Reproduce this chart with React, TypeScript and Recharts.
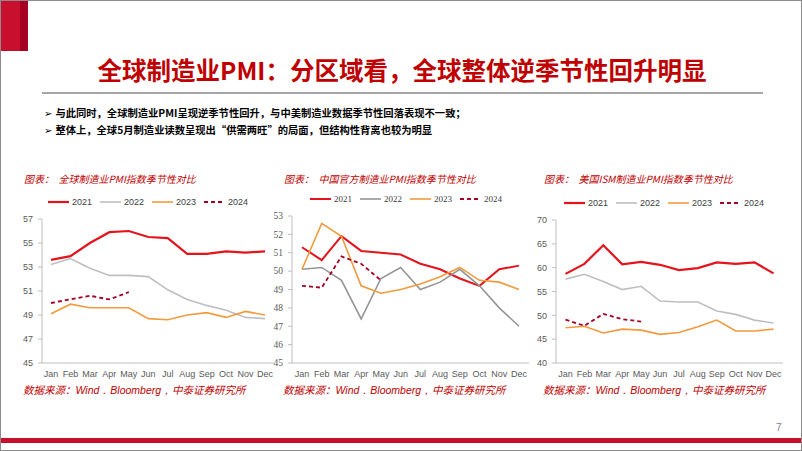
import { LineChart, Line, XAxis, YAxis, Legend } from 'recharts';

const months = ['Jan', 'Feb', 'Mar', 'Apr', 'May', 'Jun', 'Jul', 'Aug', 'Sep', 'Oct', 'Nov', 'Dec'];

// 全球制造业PMI
const global2021 = [53.6, 53.9, 55.0, 55.9, 56.0, 55.5, 55.4, 54.1, 54.1, 54.3, 54.2, 54.3];
const global2022 = [53.2, 53.7, 52.9, 52.3, 52.3, 52.2, 51.1, 50.3, 49.8, 49.4, 48.8, 48.7];
const global2023 = [49.1, 49.9, 49.6, 49.6, 49.6, 48.7, 48.6, 49.0, 49.2, 48.8, 49.3, 49.0];
const global2024 = [50.0, 50.3, 50.6, 50.3, 50.9];

// 中国官方制造业PMI
const china2021 = [51.3, 50.6, 51.9, 51.1, 51.0, 50.9, 50.4, 50.1, 49.6, 49.2, 50.1, 50.3];
const china2022 = [50.1, 50.2, 49.5, 47.4, 49.6, 50.2, 49.0, 49.4, 50.1, 49.2, 48.0, 47.0];
const china2023 = [50.1, 52.6, 51.9, 49.2, 48.8, 49.0, 49.3, 49.7, 50.2, 49.5, 49.4, 49.0];
const china2024 = [49.2, 49.1, 50.8, 50.4, 49.5];

// 美国ISM制造业PMI
const us2021 = [58.7, 60.8, 64.7, 60.7, 61.2, 60.6, 59.5, 59.9, 61.1, 60.8, 61.1, 58.8];
const us2022 = [57.6, 58.6, 57.1, 55.4, 56.1, 53.0, 52.8, 52.8, 50.9, 50.2, 49.0, 48.4];
const us2023 = [47.4, 47.7, 46.3, 47.1, 46.9, 46.0, 46.4, 47.6, 49.0, 46.7, 46.7, 47.1];
const us2024 = [49.1, 47.8, 50.3, 49.2, 48.7];

const globalTicks = [45, 47, 49, 51, 53, 55, 57];
const chinaTicks = [45, 46, 47, 48, 49, 50, 51, 52, 53];
const usTicks = [40, 45, 50, 55, 60, 65, 70];

const years = ['2021', '2022', '2023', '2024'];

const SANS = '"Liberation Sans", Arial, sans-serif';
const SERIF = '"Liberation Serif", "Times New Roman", serif';
const CJK = '"Noto Sans CJK SC", sans-serif';

const buildRows = (a: number[], b: number[], c: number[], d: number[]) =>
  months.map((m, i) => ({
    month: m,
    '2021': a[i],
    '2022': b[i],
    '2023': c[i],
    '2024': i < d.length ? d[i] : null,
  }));

type SeriesStyle = { color: string; width: number; dash?: string };

const PmiChart = (props: {
  left: number;
  top: number;
  width: number;
  height: number;
  margin: { top: number; right: number; left: number; bottom: number };
  yWidth: number;
  pad: number;
  data: any[];
  domain: [number, number];
  ticks: number[];
  styles: Record<string, SeriesStyle>;
  title: string;
  legendPos: { left: number; top: number; item: number };
  legendFont: string;
  legendSize: number;
  yFont: string;
  ySize: number;
}) => {
  const renderLegend = () => (
    <div style={{ display: 'flex', alignItems: 'center' }}>
      {years.map((y) => {
        const s = props.styles[y];
        return (
          <div key={y} style={{ display: 'flex', alignItems: 'center', width: props.legendPos.item }}>
            <svg width={21} height={10}>
              <line x1={0} y1={5} x2={21} y2={5} stroke={s.color} strokeWidth={s.width} strokeDasharray={s.dash} />
            </svg>
            <span style={{ marginLeft: 3, fontFamily: props.legendFont, fontSize: props.legendSize, color: '#404040' }}>{y}</span>
          </div>
        );
      })}
    </div>
  );

  return (
    <div style={{ position: 'absolute', left: props.left, top: props.top, width: props.width, height: props.height }}>
      <div
        style={{
          position: 'absolute',
          left: 13,
          top: 10,
          fontFamily: CJK,
          fontStyle: 'italic',
          fontSize: 10,
          color: '#C00000',
          whiteSpace: 'nowrap',
        }}
      >
        图表：&nbsp;&nbsp;{props.title}
      </div>
      <LineChart width={props.width} height={props.height} data={props.data} margin={props.margin}>
        <XAxis
          dataKey="month"
          interval={0}
          height={20}
          padding={{ left: props.pad, right: props.pad }}
          axisLine={{ stroke: '#BFBFBF' }}
          tickLine={false}
          tick={{ fontFamily: SANS, fontSize: 9, fill: '#595959' }}
          tickMargin={2}
        />
        <YAxis
          width={props.yWidth}
          domain={props.domain}
          ticks={props.ticks}
          interval={0}
          axisLine={{ stroke: '#BFBFBF' }}
          tickLine={{ stroke: '#BFBFBF' }}
          tickSize={4}
          tickMargin={5}
          tick={{ fontFamily: props.yFont, fontSize: props.ySize, fill: '#595959' }}
        />
        <Legend
          layout="horizontal"
          verticalAlign="middle"
          align="center"
          content={renderLegend}
          wrapperStyle={{ left: props.legendPos.left, top: props.legendPos.top, width: 'auto', height: 12 }}
        />
        {years.map((y) => (
          <Line
            key={y}
            type="linear"
            dataKey={y}
            stroke={props.styles[y].color}
            strokeWidth={props.styles[y].width}
            strokeDasharray={props.styles[y].dash}
            dot={false}
            activeDot={false}
            isAnimationActive={false}
          />
        ))}
      </LineChart>
      <div
        style={{
          position: 'absolute',
          left: 12,
          top: 221,
          fontFamily: CJK,
          fontStyle: 'italic',
          fontSize: 10.5,
          color: '#C00000',
          whiteSpace: 'nowrap',
        }}
      >
        数据来源：<span style={{ fontFamily: SANS }}>Wind．Bloomberg，</span>中泰证券研究所
      </div>
    </div>
  );
};

const lightStyles: Record<string, SeriesStyle> = {
  '2021': { color: '#E5141C', width: 2.2 },
  '2022': { color: '#BFBFBF', width: 1.6 },
  '2023': { color: '#F39A3C', width: 1.6 },
  '2024': { color: '#A50021', width: 1.8, dash: '4 3' },
};

const chinaStyles: Record<string, SeriesStyle> = {
  '2021': { color: '#E5141C', width: 2.0 },
  '2022': { color: '#959595', width: 1.6 },
  '2023': { color: '#F39A3C', width: 1.6 },
  '2024': { color: '#A50021', width: 1.8, dash: '4 3' },
};

export default function App() {
  return (
    <div
      style={{
        position: 'absolute',
        left: 0,
        top: 0,
        width: 802,
        height: 451,
        background: '#fff',
        border: '1px solid #8C8C8C',
        boxSizing: 'border-box',
        overflow: 'hidden',
      }}
    >
      <div style={{ position: 'absolute', left: 0, top: 0, width: 19, height: 50, background: '#C8102E' }} />
      <div style={{ position: 'absolute', left: 19, top: 0, width: 8, height: 50, background: '#A50021' }} />
      <div
        style={{
          position: 'absolute',
          left: 0,
          top: 51,
          width: 802,
          textAlign: 'center',
          fontFamily: CJK,
          fontWeight: 700,
          fontSize: 24.5,
          color: '#C00000',
          whiteSpace: 'nowrap',
        }}
      >
        全球制造业PMI：分区域看，全球整体逆季节性回升明显
      </div>
      <div style={{ position: 'absolute', left: 41, top: 91, width: 721, height: 2, background: '#A6A6A6' }} />
      <div style={{ position: 'absolute', left: 43, top: 104, fontFamily: CJK, fontWeight: 700, fontSize: 10.3, color: '#000', whiteSpace: 'nowrap' }}>
        <span style={{ fontFamily: '"DejaVu Sans"', fontSize: 10, marginRight: 3 }}>➢</span>与此同时，全球制造业PMI呈现逆季节性回升，与中美制造业数据季节性回落表现不一致；
      </div>
      <div style={{ position: 'absolute', left: 43, top: 121, fontFamily: CJK, fontWeight: 700, fontSize: 10.3, color: '#000', whiteSpace: 'nowrap' }}>
        <span style={{ fontFamily: '"DejaVu Sans"', fontSize: 10, marginRight: 3 }}>➢</span>整体上，全球5月制造业读数呈现出“供需两旺”的局面，但结构性背离也较为明显
      </div>

      <PmiChart
        left={10}
        top={160}
        width={270}
        height={230}
        margin={{ top: 58, right: 7, left: 0, bottom: 8 }}
        yWidth={31}
        pad={9}
        data={buildRows(global2021, global2022, global2023, global2024)}
        domain={[45, 57]}
        ticks={globalTicks}
        styles={lightStyles}
        title="全球制造业PMI指数季节性对比"
        legendPos={{ left: 37, top: 36, item: 52 }}
        legendFont={SANS}
        legendSize={9}
        yFont={SANS}
        ySize={9}
      />
      <PmiChart
        left={270}
        top={160}
        width={270}
        height={230}
        margin={{ top: 55, right: 12, left: 0, bottom: 8 }}
        yWidth={21}
        pad={10}
        data={buildRows(china2021, china2022, china2023, china2024)}
        domain={[45, 53]}
        ticks={chinaTicks}
        styles={chinaStyles}
        title="中国官方制造业PMI指数季节性对比"
        legendPos={{ left: 39, top: 33, item: 50 }}
        legendFont={SERIF}
        legendSize={9}
        yFont={SERIF}
        ySize={9.5}
      />
      <PmiChart
        left={530}
        top={160}
        width={272}
        height={230}
        margin={{ top: 59, right: 20, left: 0, bottom: 8 }}
        yWidth={25}
        pad={9.5}
        data={buildRows(us2021, us2022, us2023, us2024)}
        domain={[40, 70]}
        ticks={usTicks}
        styles={lightStyles}
        title="美国ISM制造业PMI指数季节性对比"
        legendPos={{ left: 33, top: 37, item: 52 }}
        legendFont={SANS}
        legendSize={9}
        yFont={SANS}
        ySize={9}
      />

      <div style={{ position: 'absolute', left: 775, top: 421, fontFamily: SANS, fontSize: 10, color: '#808080' }}>7</div>
      <div style={{ position: 'absolute', left: 0, top: 437, width: 802, height: 5, background: '#C8102E' }} />
    </div>
  );
}
